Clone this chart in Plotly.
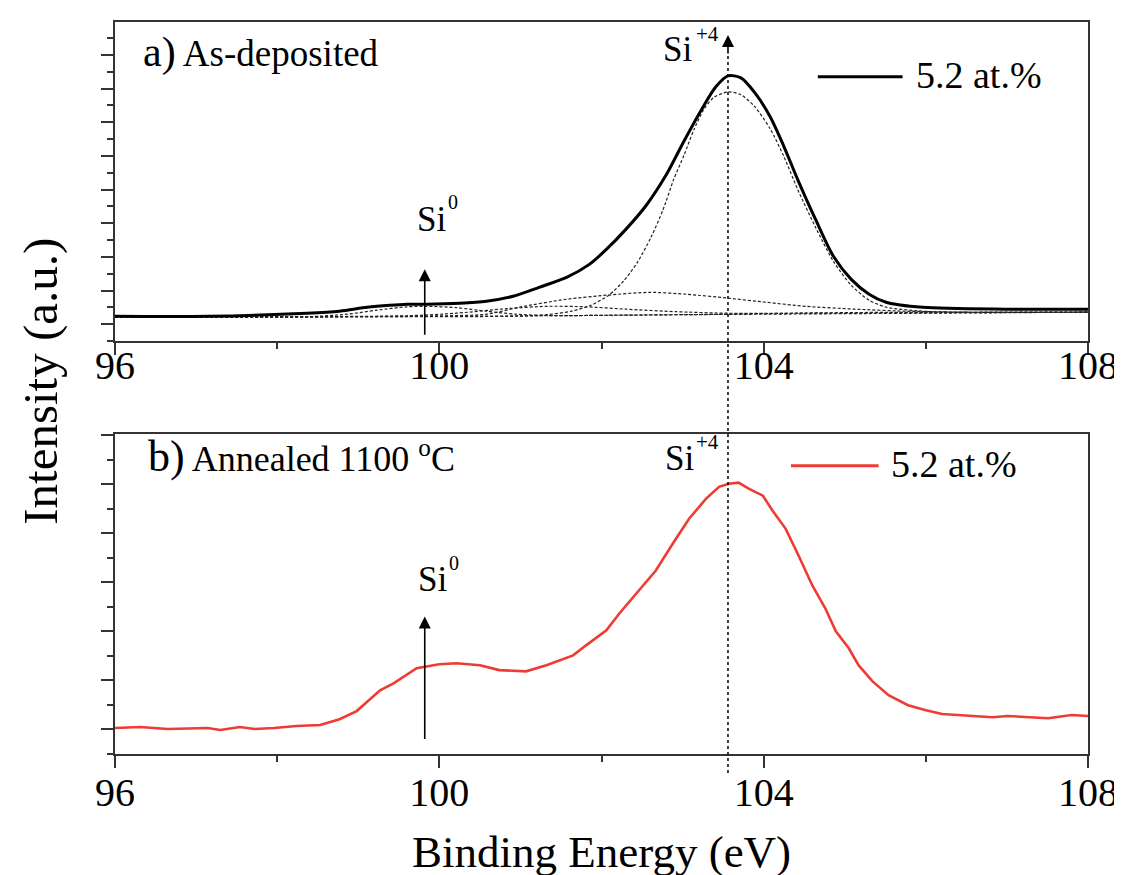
import plotly.graph_objects as go

# ---------------- data ----------------
# (a) as-deposited: measured envelope (binding energy eV, intensity a.u.)
be_env = [96.0, 97.14, 98.37, 98.77, 99.11, 99.39, 99.60, 99.84, 100.25, 100.58,
          100.91, 101.23, 101.57, 101.85, 102.06, 102.30, 102.55, 102.80, 103.02,
          103.24, 103.41, 103.56, 103.72, 103.89, 104.08, 104.25, 104.42, 104.64,
          104.86, 105.08, 105.30, 105.51, 105.96, 106.98, 108.0]
int_env = [1.48, 1.48, 1.66, 1.78, 2.01, 2.13, 2.19, 2.19, 2.25, 2.37,
           2.67, 3.20, 3.79, 4.56, 5.45, 6.64, 8.06, 9.90, 11.91,
           13.81, 15.11, 15.76, 15.64, 14.76, 13.33, 11.56, 9.60, 7.23,
           5.04, 3.67, 2.79, 2.31, 2.01, 1.90, 1.90]

# fitted components (dashed)
be_bg = [96.0, 99.0, 101.0, 102.5, 103.5, 104.5, 105.5, 108.0]
int_bg = [1.42, 1.45, 1.50, 1.55, 1.60, 1.67, 1.71, 1.72]

be_si0 = [96.0, 98.37, 98.86, 99.23, 99.60, 99.84, 100.21, 100.58, 100.95, 101.44, 102.06, 108.0]
int_si0 = [1.42, 1.45, 1.60, 1.84, 2.04, 2.07, 1.99, 1.78, 1.60, 1.51, 1.54, 1.72]

be_si1 = [96.0, 99.60, 100.21, 100.83, 101.33, 101.81, 102.30, 102.92, 103.56, 104.52, 108.0]
int_si1 = [1.42, 1.51, 1.66, 1.93, 2.07, 2.04, 1.90, 1.75, 1.66, 1.66, 1.72]

be_si3 = [96.0, 99.60, 100.58, 100.99, 101.57, 102.06, 102.59, 103.04, 103.57, 104.03,
          104.52, 105.13, 105.75, 106.49, 108.0]
int_si3 = [1.42, 1.48, 1.60, 2.02, 2.49, 2.73, 2.90, 2.79, 2.55, 2.31,
           2.07, 1.90, 1.78, 1.72, 1.72]

be_si4 = [96.0, 99.60, 100.95, 101.32, 101.63, 101.87, 102.09, 102.28, 102.45, 102.61,
          102.76, 102.89, 103.02, 103.14, 103.26, 103.38, 103.56, 103.72, 103.89, 104.08,
          104.25, 104.42, 104.64, 104.86, 105.08, 105.30, 105.51, 105.96, 106.49, 108.0]
int_si4 = [1.42, 1.46, 1.48, 1.57, 1.78, 2.13, 2.73, 3.61, 4.74, 6.16,
           7.82, 9.60, 11.08, 12.56, 13.75, 14.46, 14.81, 14.64, 13.93, 12.62,
           10.96, 9.01, 6.76, 4.74, 3.32, 2.43, 2.02, 1.78, 1.72, 1.72]

# (b) annealed 1100 C: measured spectrum
be_ann = [96.0, 96.31, 96.65, 97.14, 97.30, 97.54, 97.72, 97.96, 98.24, 98.53,
          98.77, 98.98, 99.27, 99.44, 99.72, 100.00, 100.21, 100.50, 100.74, 101.07,
          101.32, 101.65, 101.81, 102.06, 102.22, 102.43, 102.67, 102.88, 103.08, 103.29,
          103.45, 103.57, 103.69, 103.82, 103.99, 104.11, 104.27, 104.43, 104.60, 104.76,
          104.89, 105.05, 105.17, 105.34, 105.54, 105.78, 105.99, 106.20, 106.40, 106.82,
          107.01, 107.22, 107.51, 107.80, 108.00]
int_ann = [1.06, 1.10, 1.02, 1.06, 0.98, 1.10, 1.02, 1.06, 1.14, 1.18,
           1.42, 1.75, 2.60, 2.89, 3.50, 3.66, 3.70, 3.62, 3.42, 3.37,
           3.62, 4.02, 4.43, 5.04, 5.73, 6.55, 7.48, 8.58, 9.59, 10.41,
           10.89, 11.02, 11.06, 10.81, 10.53, 9.92, 9.19, 8.09, 6.87, 5.94,
           5.00, 4.31, 3.62, 2.97, 2.40, 1.99, 1.79, 1.63, 1.59, 1.50,
           1.55, 1.50, 1.46, 1.59, 1.55]

si4_energy = 103.56
si0_energy = 99.82
legend_label = "5.2 at.%"
tick_vals = [96, 100, 104, 108]

# ---------------- figure ----------------
FONT = "Liberation Serif"
AX = "#333333"

fig = go.Figure()

comp_line = dict(color="#222222", width=1.2, dash="3px,2px", shape="spline", smoothing=0.7)
for bx, iy, nm in [(be_bg, int_bg, "background"), (be_si0, int_si0, "Si0"),
                   (be_si1, int_si1, "Si+"), (be_si3, int_si3, "Si3+"),
                   (be_si4, int_si4, "Si4+")]:
    fig.add_trace(go.Scatter(x=bx, y=iy, mode="lines", line=comp_line, name=nm,
                             xaxis="x", yaxis="y", showlegend=False, hoverinfo="skip"))

fig.add_trace(go.Scatter(x=be_env, y=int_env, mode="lines",
                         line=dict(color="black", width=3, shape="spline", smoothing=0.8),
                         name=legend_label, xaxis="x", yaxis="y", showlegend=False))

fig.add_trace(go.Scatter(x=be_ann, y=int_ann, mode="lines",
                         line=dict(color="#EE3B33", width=2.6),
                         name=legend_label, xaxis="x2", yaxis="y2", showlegend=False))

def xaxis_cfg(anchor, standoff):
    return dict(range=[96, 108], tickvals=tick_vals, ticks="outside", ticklen=12,
                tickwidth=1.5, tickcolor=AX, showline=True, linecolor=AX, linewidth=1.5,
                mirror=True, showgrid=False, zeroline=False, anchor=anchor,
                domain=[0, 1], ticklabelstandoff=standoff,
                minor=dict(tick0=96, dtick=2, ticks="outside", ticklen=6, tickwidth=1.5,
                           tickcolor=AX, showgrid=False),
                tickfont=dict(family=FONT, size=40, color="black"))

def yaxis_cfg(anchor, rng, dom):
    return dict(range=rng, tick0=1, dtick=2, ticks="outside", ticklen=12, tickwidth=1.5,
                tickcolor=AX, showticklabels=False, showline=True, linecolor=AX,
                linewidth=1.5, mirror=True, showgrid=False, zeroline=False,
                anchor=anchor, domain=dom,
                minor=dict(tick0=0, dtick=2, ticks="outside", ticklen=6, tickwidth=1.5,
                           tickcolor=AX, showgrid=False))

fig.update_layout(
    width=1122, height=875,
    margin=dict(l=107, r=39, t=12, b=129),
    paper_bgcolor="white", plot_bgcolor="white",
    font=dict(family=FONT, color="black"),
    xaxis=xaxis_cfg("y", -24),
    yaxis=yaxis_cfg("x", [0, 18.96], [0.564, 1.0]),
    xaxis2=xaxis_cfg("y2", -10),
    yaxis2=yaxis_cfg("x2", [0, 13.05], [0.0, 0.4373]),
    showlegend=False,
)

# dotted Si+4 guide line through both panels
fig.add_shape(type="line", xref="x", yref="paper", x0=si4_energy, x1=si4_energy,
              y0=-0.026, y1=0.958, line=dict(color="black", width=1.5, dash="dot"))
# legend samples
fig.add_shape(type="line", xref="paper", yref="paper", x0=0.7223, x1=0.8094,
              y0=0.9251, y1=0.9251, line=dict(color="black", width=3))
fig.add_shape(type="line", xref="paper", yref="paper", x0=0.6947, x1=0.7848,
              y0=0.3937, y1=0.3937, line=dict(color="#EE3B33", width=3))

ann = []
def txt(x, y, s, size, xanchor="center", yanchor="middle", angle=0):
    ann.append(dict(x=x, y=y, xref="paper", yref="paper", text=s, showarrow=False,
                    xanchor=xanchor, yanchor=yanchor, textangle=angle,
                    font=dict(family=FONT, size=size, color="black")))

txt(0.0266, 0.9580, "<span style='font-size:42px'>a)</span> As-deposited", 37, xanchor="left")
txt(0.0318, 0.4060, "<span style='font-size:44px'>b)</span> Annealed 1100 <sup>o</sup>C", 36, xanchor="left")
txt(0.8207, 0.9272, legend_label, 38, xanchor="left")
txt(0.7951, 0.3959, legend_label, 38, xanchor="left")
# Si labels
txt(0.5784, 0.9625, "Si", 35)
txt(0.6086, 0.9836, "+4", 21)
txt(0.5799, 0.4040, "Si", 35)
txt(0.6091, 0.4264, "+4", 21)
txt(0.3248, 0.7296, "Si", 35)
txt(0.3473, 0.7547, "0", 20)
txt(0.3258, 0.2378, "Si", 35)
txt(0.3484, 0.2615, "0", 20)
# axis titles
txt(0.5, -0.1336, "Binding Energy (eV)", 45)
txt(-0.0768, 0.5089, "Intensity (a.u.)", 49, angle=-90)

# arrows
arrow = dict(text="", showarrow=True, arrowhead=2, arrowsize=1.5, arrowwidth=1.6,
             arrowcolor="black", ax=0)
ann.append(dict(arrow, x=si4_energy, y=0.9823, xref="x", yref="paper", ay=20))
ann.append(dict(arrow, x=si0_energy, y=4.27, xref="x", yref="y", ay=67))
ann.append(dict(arrow, x=si0_energy, y=5.61, xref="x2", yref="y2", ay=124))

fig.update_layout(annotations=ann)
fig.write_html("out.html")
